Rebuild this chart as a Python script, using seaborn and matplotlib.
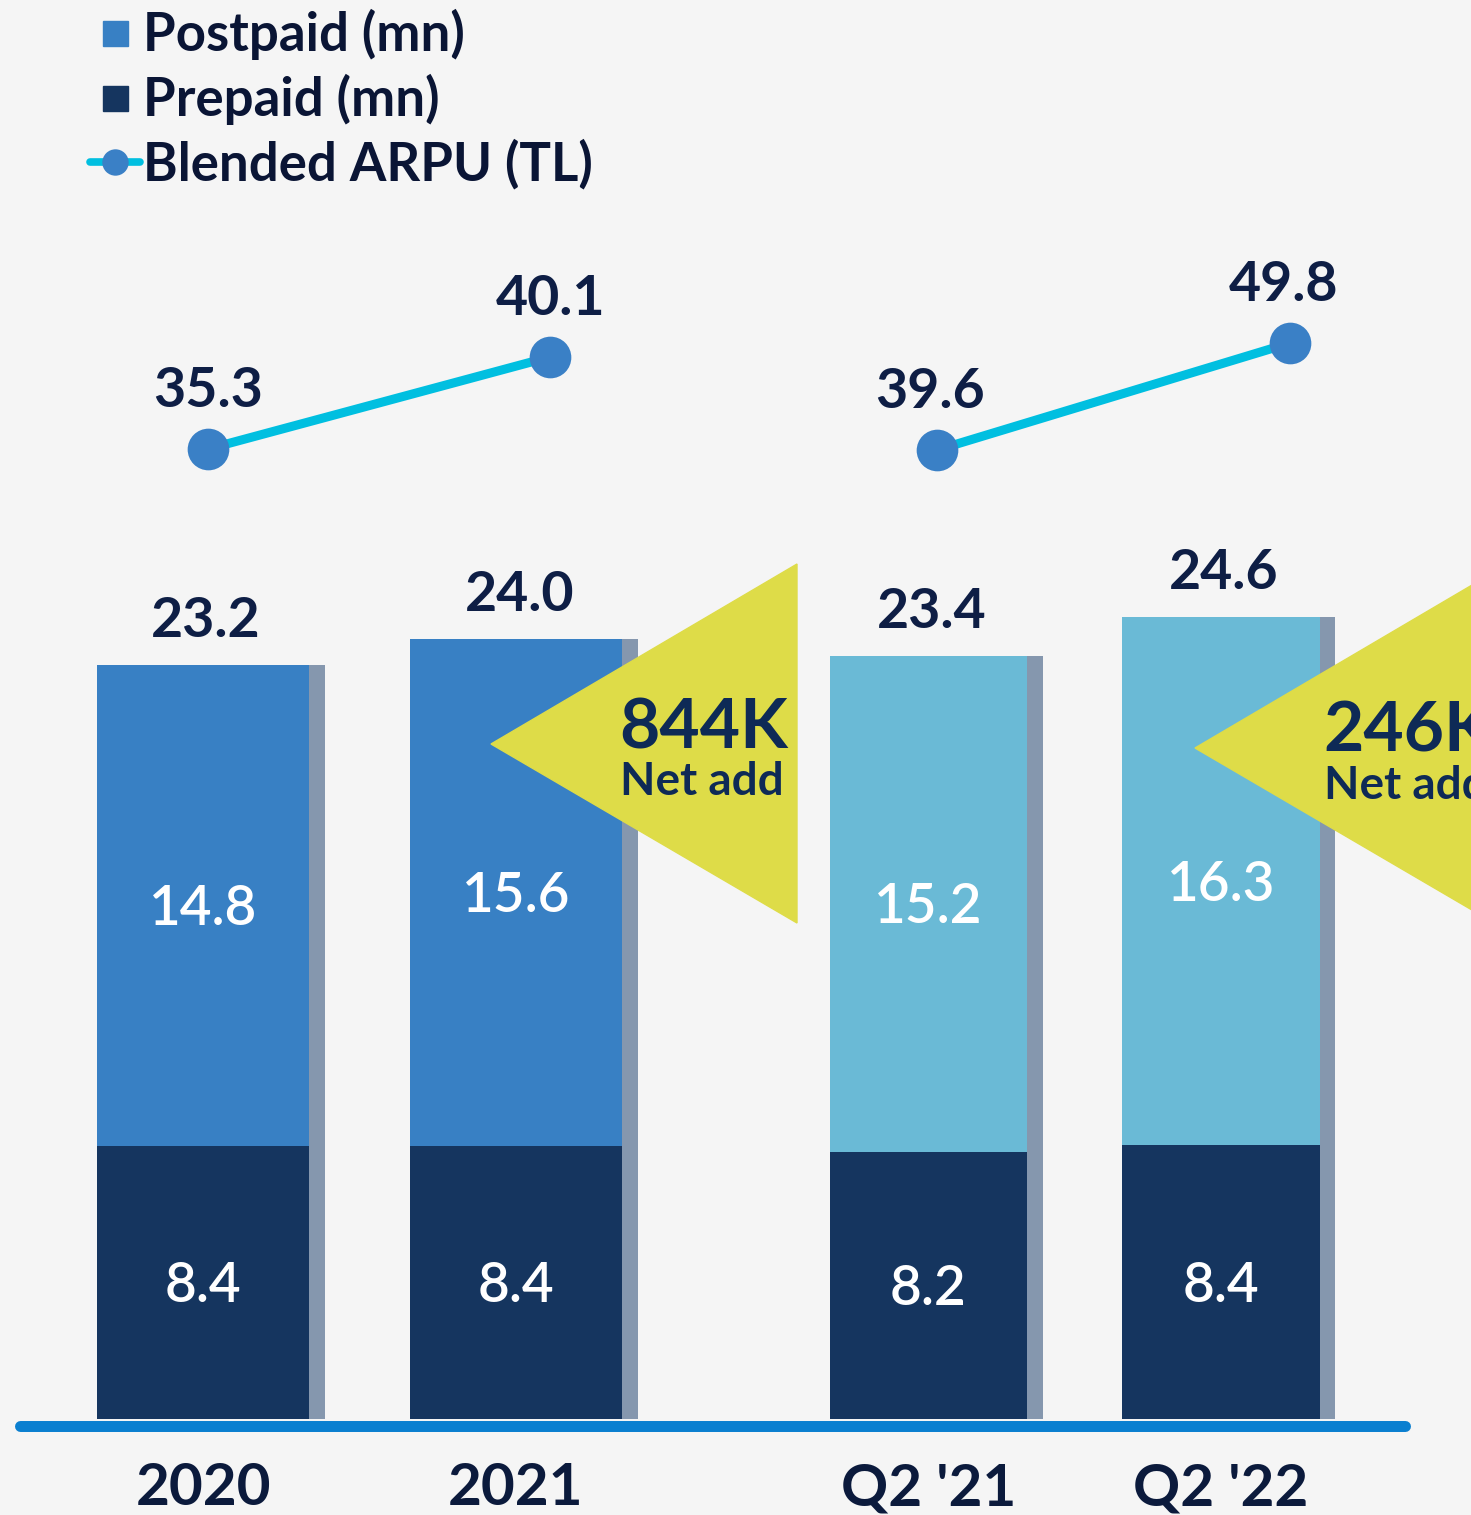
import numpy as np
import pandas as pd
import matplotlib.pyplot as plt
import seaborn as sns
from matplotlib.lines import Line2D
from matplotlib.patches import Polygon

# ---------- data ----------
year_labels = ["2020", "2021"]
year_postpaid = [14.8, 15.6]
year_prepaid = [8.4, 8.4]
year_total = [23.2, 24.0]
year_arpu = [35.3, 40.1]

quarter_labels = ["Q2 '21", "Q2 '22"]
quarter_postpaid = [15.2, 16.3]
quarter_prepaid = [8.2, 8.4]
quarter_total = [23.4, 24.6]
quarter_arpu = [39.6, 49.8]

net_add = ["844K", "246K"]

# ---------- style ----------
sns.set_style("white")
plt.rcParams["font.family"] = ["Lato", "DejaVu Sans"]

BG = "#F5F5F5"
POST_DARK = "#3880C4"
POST_LIGHT = "#6ABAD6"
PREPAID = "#15355F"
SHADOW = "#8597AE"
ARPU_LINE = "#00BFE0"
ARPU_DOT = "#3A80C6"
NAVY = "#0E1E45"
YELLOW = "#DEDC48"
AXIS_BLUE = "#0A7FD0"

W, H = 1471, 1515
BASE = 1419  # baseline of bars, px from top
BAR_W, SHADOW_W = 0.675, 0.053

fig = plt.figure(figsize=(W / 100, H / 100), dpi=100, facecolor=BG)


def px(x, y):
    return x / W, 1 - y / H


def draw_group(left, right, center0, pitch, yscale, arpu_ylim, shift, label_dx,
               labels, post, pre, tot, arpu, post_color):
    ax = fig.add_axes([left / W, (H - BASE) / H, (right - left) / W, BASE / H])
    ax.set_facecolor("none")
    df = pd.DataFrame({"period": labels, "postpaid": post, "prepaid": pre, "total": tot})

    # stacked bars: total first (postpaid colour), prepaid drawn over it
    sns.barplot(data=df, x="period", y="total", color=post_color, width=BAR_W,
                saturation=1, errorbar=None, linewidth=0, ax=ax)
    sns.barplot(data=df, x="period", y="prepaid", color=PREPAID, width=BAR_W,
                saturation=1, errorbar=None, linewidth=0, ax=ax)
    pos = np.arange(len(labels))
    ax.bar(pos + BAR_W / 2 + SHADOW_W / 2, df["total"], width=SHADOW_W,
           color=SHADOW, linewidth=0)

    for i, r in df.iterrows():
        ax.annotate(f"{r.total:.1f}", (i + 0.01, r.total), xytext=(0, 20),
                    textcoords="offset points", ha="center", va="baseline",
                    fontsize=40, fontweight="bold", color=NAVY)
        mid_post = r.prepaid + (r.total - r.prepaid) / 2
        ax.annotate(f"{r.postpaid:.1f}", (i, mid_post), xytext=(0, -14),
                    textcoords="offset points", ha="center", va="baseline",
                    fontsize=39.5, fontweight="semibold", color="white")
        ax.annotate(f"{r.prepaid:.1f}", (i, r.prepaid / 2), xytext=(0, -14),
                    textcoords="offset points", ha="center", va="baseline",
                    fontsize=39.5, fontweight="semibold", color="white")

    ax.set_ylim(0, BASE / yscale)
    ax.set_xlim((left - center0) / pitch, (right - center0) / pitch)
    ax.set_xlabel("")
    ax.set_ylabel("")
    ax.set_yticks([])
    ax.set_xticks(pos)
    ax.set_xticklabels(labels, fontsize=42, fontweight="bold", color="#0B1A3C")
    ax.tick_params(axis="x", length=0, pad=31)
    sns.despine(ax=ax, left=True, bottom=True)

    # ARPU line on its own scale
    tw = ax.twinx()
    xs = pos + np.array(shift)
    sns.lineplot(x=xs, y=arpu, ax=tw, color=ARPU_LINE, linewidth=6.5,
                 marker="o", markersize=30, markerfacecolor=ARPU_DOT,
                 markeredgewidth=0)
    for x, v in zip(xs, arpu):
        tw.annotate(f"{v:.1f}", (x, v), xytext=(label_dx, 30), textcoords="offset points",
                    ha="center", va="baseline", fontsize=40, fontweight="bold",
                    color=NAVY)
    tw.set_ylim(*arpu_ylim)
    tw.axis("off")
    return ax


draw_group(0, 735, 203, 313, 32.5, (-15.3, 58.72), [0.016, 0.109], 0,
           year_labels, year_postpaid, year_prepaid, year_total, year_arpu, POST_DARK)
draw_group(735, W, 928.5, 292.5, 32.6, (-52.77, 82.5), [0.029, 0.236], -5,
           quarter_labels, quarter_postpaid, quarter_prepaid, quarter_total,
           quarter_arpu, POST_LIGHT)

# baseline
fig.add_artist(Line2D([20 / W, 1405 / W], [1 - 1425.5 / H] * 2, color=AXIS_BLUE,
                      linewidth=7.9, solid_capstyle="round"))

# net-add callouts
for (tx, ty), txt in zip([(491, 744), (1195, 748)], net_add):
    tri = Polygon([px(tx, ty), px(tx + 306, ty - 180), px(tx + 306, ty + 179)],
                  closed=True, transform=fig.transFigure, color=YELLOW)
    fig.add_artist(tri)
    fig.text(*px(tx + 128, ty + 4), txt, fontsize=50, fontweight="bold",
             color="#0E2A56", va="baseline", ha="left")
    fig.text(*px(tx + 129, ty + 51), "Net add", fontsize=33, fontweight="bold",
             color="#0E2A56", va="baseline", ha="left")

# legend
handles = [
    Line2D([], [], marker="s", linestyle="none", markersize=18, color=POST_DARK),
    Line2D([], [], marker="s", linestyle="none", markersize=18, color=PREPAID),
    Line2D([], [], color=ARPU_LINE, linewidth=5.5, marker="o", markersize=19,
           markerfacecolor=ARPU_DOT, markeredgewidth=0),
]
fig.legend(handles, ["Postpaid (mn)", "Prepaid (mn)", "Blended ARPU (TL)"],
           loc="upper left", bbox_to_anchor=(90 / W, 1 - 9 / H), frameon=False,
           prop={"size": 38, "weight": "bold"}, labelcolor="#0A1535",
           handlelength=0.95, handletextpad=0.05, labelspacing=0.26,
           borderpad=0, borderaxespad=0)

fig.savefig("out.png", dpi=100, facecolor=BG)
